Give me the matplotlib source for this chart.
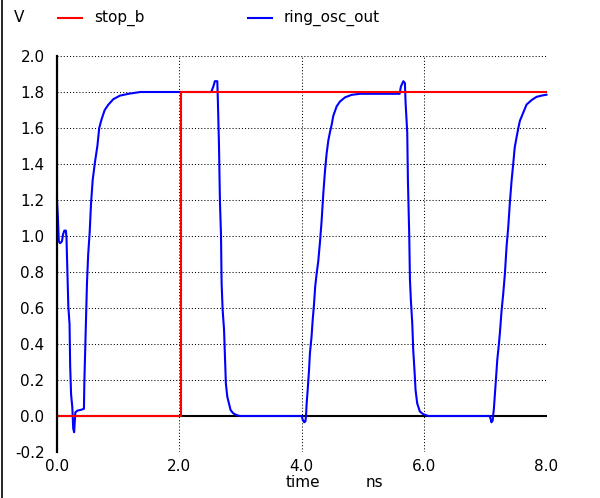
import matplotlib
matplotlib.use("Agg")
import matplotlib.pyplot as plt
from matplotlib.lines import Line2D

# stop_b: low until ~2 ns, then high
stop_t = [0.0, 2.02, 2.02, 8.0]
stop_v = [0.0, 0.0, 1.8, 1.8]

# ring_osc_out
osc_t = [0.0, 0.015, 0.03, 0.05, 0.08, 0.10, 0.12, 0.145, 0.155, 0.17, 0.185,
         0.205, 0.215, 0.23, 0.25, 0.265, 0.28, 0.30, 0.335, 0.40, 0.44, 0.447,
         0.468, 0.49, 0.51, 0.534, 0.556, 0.583, 0.62, 0.66, 0.69, 0.73, 0.78,
         0.84, 0.92, 1.03, 1.17, 1.36,
         2.52, 2.555, 2.58, 2.62, 2.63, 2.647, 2.663, 2.68, 2.69, 2.707, 2.73,
         2.745, 2.76, 2.783, 2.81, 2.837, 2.88, 2.935, 2.99,
         4.0, 4.015, 4.04, 4.06, 4.07, 4.08, 4.096, 4.118, 4.134, 4.16, 4.178,
         4.2, 4.22, 4.243, 4.27, 4.3, 4.325, 4.352, 4.38, 4.406, 4.434, 4.46,
         4.49, 4.515, 4.57, 4.624, 4.706, 4.814, 4.95,
         5.6, 5.62, 5.66, 5.686, 5.697, 5.724, 5.735, 5.757, 5.768, 5.784,
         5.806, 5.822, 5.844, 5.86, 5.887, 5.93, 5.986, 6.067,
         7.07, 7.09, 7.10, 7.12, 7.14, 7.157, 7.173, 7.195, 7.222, 7.238,
         7.266, 7.293, 7.32, 7.347, 7.375, 7.40, 7.43, 7.456, 7.48, 7.51,
         7.54, 7.565, 7.62, 7.674, 7.756, 7.837, 7.92, 8.0]
osc_v = [1.20, 1.10, 0.97, 0.96, 0.97, 1.01, 1.03, 1.03, 0.99, 0.80, 0.61,
         0.51, 0.28, 0.12, 0.05, -0.07, -0.09, 0.02, 0.03, 0.035, 0.04, 0.19,
         0.45, 0.74, 0.90, 1.02, 1.18, 1.31, 1.41, 1.50, 1.60, 1.65, 1.70,
         1.73, 1.76, 1.78, 1.79, 1.80,
         1.80, 1.83, 1.86, 1.86, 1.74, 1.51, 1.19, 1.01, 0.74, 0.59, 0.48,
         0.33, 0.18, 0.107, 0.07, 0.033, 0.015, 0.005, 0.0,
         0.0, -0.02, -0.035, -0.03, 0.0, 0.07, 0.14, 0.25, 0.35, 0.44, 0.53,
         0.62, 0.72, 0.79, 0.86, 0.975, 1.086, 1.235, 1.363, 1.457, 1.53, 1.575,
         1.62, 1.667, 1.72, 1.747, 1.77, 1.784, 1.79,
         1.79, 1.83, 1.86, 1.85, 1.74, 1.575, 1.31, 1.0, 0.76, 0.64,
         0.515, 0.366, 0.245, 0.144, 0.07, 0.025, 0.01, 0.0,
         0.0, -0.02, -0.035, -0.025, 0.04, 0.127, 0.2, 0.31, 0.40, 0.46,
         0.587, 0.68, 0.79, 0.94, 1.05, 1.18, 1.31, 1.40, 1.49, 1.547,
         1.60, 1.64, 1.686, 1.73, 1.755, 1.773, 1.78, 1.785]

xticks = [0.0, 2.0, 4.0, 6.0, 8.0]
yticks = [-0.2, 0.0, 0.2, 0.4, 0.6, 0.8, 1.0, 1.2, 1.4, 1.6, 1.8, 2.0]

W, H = 600, 498
fig = plt.figure(figsize=(W / 100, H / 100), dpi=100)
ax = fig.add_axes([57 / W, 1 - 452 / H, (546.5 - 57) / W, (452 - 56) / H])

ax.set_xlim(0, 8)
ax.set_ylim(-0.2, 2.0)
ax.set_xticks(xticks)
ax.set_yticks(yticks)
ax.set_xticklabels([f"{t:.1f}" for t in xticks], fontsize=11)
ax.set_yticklabels([f"{t:.1f}" for t in yticks], fontsize=11)
ax.tick_params(length=0, pad=5)
ax.tick_params(axis="y", pad=9)
ax.grid(True, color="black", linestyle=(0, (1, 2)), linewidth=0.75)
for side in ("top", "right", "bottom"):
    ax.spines[side].set_visible(False)
ax.spines["left"].set_linewidth(1.6)
ax.spines["left"].set_zorder(5)

ax.axhline(0, color="black", lw=1.5, zorder=2)
ax.plot(osc_t, osc_v, color="#0000ff", lw=1.5, zorder=3, clip_on=False)
ax.plot(stop_t, stop_v, color="#ff0000", lw=1.5, zorder=4)

# left frame line
fig.add_artist(Line2D([2.0 / W, 2.0 / W], [0, 1], color="black", lw=1.2,
                      transform=fig.transFigure))

# legend row
ly = 1 - 18 / H
fig.text(14 / W, ly, "V", fontsize=11, va="center")
fig.add_artist(Line2D([58 / W, 82 / W], [ly, ly], color="#ff0000", lw=1.5,
                      transform=fig.transFigure))
fig.text(94 / W, ly, "stop_b", fontsize=11, va="center")
fig.add_artist(Line2D([248 / W, 272 / W], [ly, ly], color="#0000ff", lw=1.5,
                      transform=fig.transFigure))
fig.text(284 / W, ly, "ring_osc_out", fontsize=11, va="center")

# axis caption
fig.text(303 / W, 1 - 482 / H, "time", fontsize=11, ha="center", va="center")
fig.text(374 / W, 1 - 482 / H, "ns", fontsize=11, ha="center", va="center")

fig.savefig("out.png", dpi=100, facecolor="white")
